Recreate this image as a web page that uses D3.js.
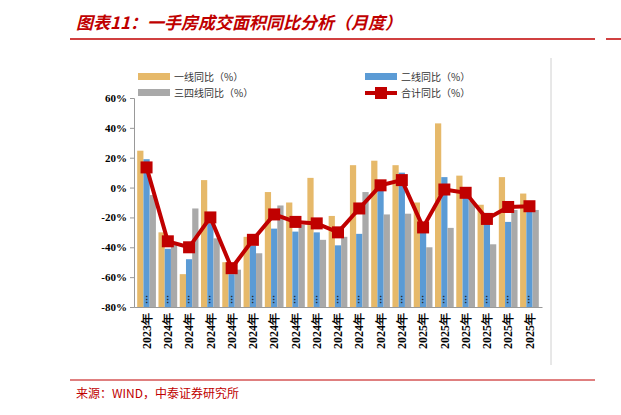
<!DOCTYPE html>
<html><head><meta charset="utf-8">
<script src="https://cdn.jsdelivr.net/npm/d3@7"></script>
<style>body{margin:0;background:#fff;font-family:"Noto Sans CJK SC",serif}</style>
</head><body>
<script>
const categories = ['2023年','2024年','2024年','2024年','2024年','2024年','2024年','2024年','2024年','2024年','2024年','2024年','2024年','2025年','2025年','2025年','2025年','2025年','2025年'];
const tier1 = [24.7,-30,-58,5,-50,-33,-3,-10,6.5,-19,15,18,15,-10,43,8,-11.5,7,-4];
const tier2 = [19,-41,-48,-24,-58,-39,-27.5,-29.5,-30,-38.7,-31,1,10,-28,7,-6,-17,-23,-13.5];
const tier34 = [-5,-38,-14,-34,-55,-44,-12,-25,-35,-33,-3,-18,-17.5,-40,-27,-9,-38,-15,-15];
const total = [13.5,-36,-40,-20,-54,-35,-18,-23,-24,-30,-14,1.5,5,-26.7,-1.3,-3.5,-21,-13,-12.5];
const yTicks = [60,40,20,0,-20,-40,-60,-80];

const W = 621, H = 415;
const svg = d3.select('body').append('svg').attr('width', W).attr('height', H);
const red = '#C00000';

// title
svg.append('text').attr('x', 76).attr('y', 29).attr('fill', red)
  .attr('font-size', 17).attr('font-weight', 'bold').attr('font-style', 'italic')
  .text('图表11：一手房成交面积同比分析（月度）');
svg.append('line').attr('x1', 70).attr('x2', 595).attr('y1', 39).attr('y2', 39)
  .attr('stroke', red).attr('stroke-width', 1.5);
svg.append('line').attr('x1', 606).attr('x2', 621).attr('y1', 39).attr('y2', 39)
  .attr('stroke', red).attr('stroke-width', 1.5);
svg.append('line').attr('x1', 551).attr('x2', 551).attr('y1', 58).attr('y2', 365)
  .attr('stroke', '#d0d0d0');

const x = d3.scaleBand().domain(d3.range(categories.length)).range([134, 542]).paddingInner(0.12).paddingOuter(0.15);
const y = d3.scaleLinear().domain([-80, 60]).range([307, 98]);
const sub = d3.scaleBand().domain([0, 1, 2]).range([0, x.bandwidth()]);

// bars rise from the bottom of the axis, as in the source chart
const series = [[tier1, '#E6B96A'], [tier2, '#5B9BD5'], [tier34, '#A9A9A9']];
series.forEach(([vals, col], si) => {
  svg.append('g').selectAll('rect').data(vals).join('rect')
    .attr('x', (d, i) => x(i) + sub(si))
    .attr('width', sub.bandwidth())
    .attr('y', d => y(d))
    .attr('height', d => y(-80) - y(d))
    .attr('fill', col);
});

// axes
const ya = svg.append('g').attr('transform', 'translate(134,0)')
  .call(d3.axisLeft(y).tickValues(yTicks).tickFormat(d => d + '%').tickSize(4));
ya.selectAll('text').attr('font-family', 'Liberation Serif').attr('font-weight', 'bold').attr('font-size', 11).attr('fill', '#000');
ya.select('.domain').attr('stroke', '#999');
ya.selectAll('.tick line').attr('stroke', '#999');

const xa = svg.append('g').attr('transform', 'translate(0,307)')
  .call(d3.axisBottom(x).tickFormat(i => categories[i]).tickSize(0));
xa.select('.domain').attr('stroke', '#999');
xa.selectAll('text').attr('transform', 'rotate(-90)').attr('text-anchor', 'end')
  .attr('x', -6).attr('y', 0).attr('dy', '0.35em')
  .attr('font-family', 'Liberation Serif').attr('font-weight', 'bold').attr('font-size', 12).attr('fill', '#000');
svg.append('g').selectAll('text').data(categories).join('text')
  .attr('transform', (d, i) => `translate(${x(i) + x.bandwidth() / 2 + 3},304) rotate(-90)`)
  .attr('font-size', 9).attr('font-weight', 'bold').attr('fill', '#222').text('…');

// total line
const line = d3.line().x((d, i) => x(i) + x.bandwidth() / 2).y(d => y(d));
svg.append('path').datum(total).attr('d', line).attr('fill', 'none').attr('stroke', red).attr('stroke-width', 4);
svg.append('g').selectAll('rect').data(total).join('rect')
  .attr('x', (d, i) => x(i) + x.bandwidth() / 2 - 6).attr('y', d => y(d) - 6)
  .attr('width', 12).attr('height', 12).attr('fill', red);

// legend
const lg = [['一线同比（%）', '#E6B96A', 138, 77, 'bar'], ['二线同比（%）', '#5B9BD5', 365, 77, 'bar'],
            ['三四线同比（%）', '#A9A9A9', 138, 93, 'bar'], ['合计同比（%）', red, 365, 93, 'line']];
lg.forEach(([t, c, lx, ly, k]) => {
  if (k === 'bar') svg.append('rect').attr('x', lx).attr('y', ly - 4).attr('width', 32).attr('height', 7).attr('fill', c);
  else {
    svg.append('line').attr('x1', lx).attr('x2', lx + 32).attr('y1', ly).attr('y2', ly).attr('stroke', c).attr('stroke-width', 4);
    svg.append('rect').attr('x', lx + 10).attr('y', ly - 6).attr('width', 12).attr('height', 12).attr('fill', c);
  }
  svg.append('text').attr('x', lx + 36).attr('y', ly + 4).attr('font-size', 10).attr('fill', '#333').text(t);
});

// source
svg.append('line').attr('x1', 70).attr('x2', 595).attr('y1', 380).attr('y2', 380).attr('stroke', red).attr('stroke-width', 1);
svg.append('text').attr('x', 76).attr('y', 398).attr('font-size', 12).attr('fill', red).text('来源：WIND，中泰证券研究所');
</script>
</body></html>
